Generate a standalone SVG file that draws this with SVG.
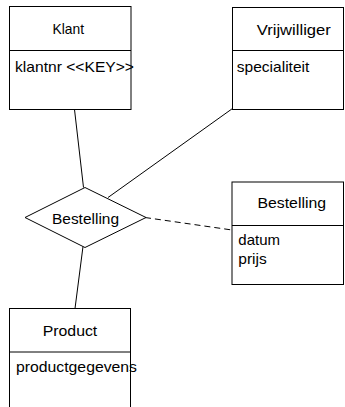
<svg xmlns="http://www.w3.org/2000/svg" width="345" height="407" viewBox="0 0 345 407">
<style>
.box{fill:#fff;stroke:#000;stroke-width:1}
.ln{stroke:#000;stroke-width:1;fill:none}
.dash{stroke:#000;stroke-width:1;fill:none;stroke-dasharray:6,4}
text{font-family:"Liberation Sans",Arial,sans-serif;font-size:14.5px;fill:#000}
</style>
<rect width="345" height="407" fill="#fff"/>
<g id="connectors">
<line class="ln" x1="74.5" y1="109.5" x2="83.5" y2="187.5"/>
<line class="ln" x1="232.5" y1="108.5" x2="108" y2="197.5"/>
<line class="dash" x1="145" y1="217.5" x2="232" y2="230"/>
<line class="ln" x1="83" y1="246.5" x2="75" y2="308.5"/>
</g>
<g id="klant">
<rect class="box" x="9.5" y="6.5" width="121.5" height="103"/>
<line class="ln" x1="9.5" y1="50.5" x2="131" y2="50.5"/>
<text x="52.5" y="34" textLength="31.5" lengthAdjust="spacingAndGlyphs">Klant</text>
<text x="15" y="72" textLength="119" lengthAdjust="spacingAndGlyphs">klantnr &lt;&lt;KEY&gt;&gt;</text>
</g>
<g id="vrijwilliger">
<rect class="box" x="232.5" y="7.5" width="111" height="102"/>
<line class="ln" x1="232.5" y1="50.5" x2="343.5" y2="50.5"/>
<text x="256.8" y="35" textLength="74" lengthAdjust="spacingAndGlyphs">Vrijwilliger</text>
<text x="236.8" y="72" textLength="72.5" lengthAdjust="spacingAndGlyphs">specialiteit</text>
</g>
<g id="relatie">
<polygon class="box" points="25,217.5 85,187.5 146,217.5 85,247.5"/>
<text x="52" y="224" textLength="67" lengthAdjust="spacingAndGlyphs">Bestelling</text>
</g>
<g id="bestelling">
<rect class="box" x="232" y="182" width="111.5" height="102.5"/>
<line class="ln" x1="232" y1="225.5" x2="343.5" y2="225.5"/>
<text x="257.5" y="208" textLength="68.5" lengthAdjust="spacingAndGlyphs">Bestelling</text>
<text x="238.3" y="244.5" textLength="41.7" lengthAdjust="spacingAndGlyphs">datum</text>
<text x="238.3" y="263.5" textLength="28.5" lengthAdjust="spacingAndGlyphs">prijs</text>
</g>
<g id="product">
<rect class="box" x="9.5" y="308.5" width="121" height="110"/>
<line class="ln" x1="9.5" y1="352" x2="130.5" y2="352"/>
<text x="42.7" y="336" textLength="54.6" lengthAdjust="spacingAndGlyphs">Product</text>
<text x="16" y="372" textLength="121" lengthAdjust="spacingAndGlyphs">productgegevens</text>
</g>
</svg>
